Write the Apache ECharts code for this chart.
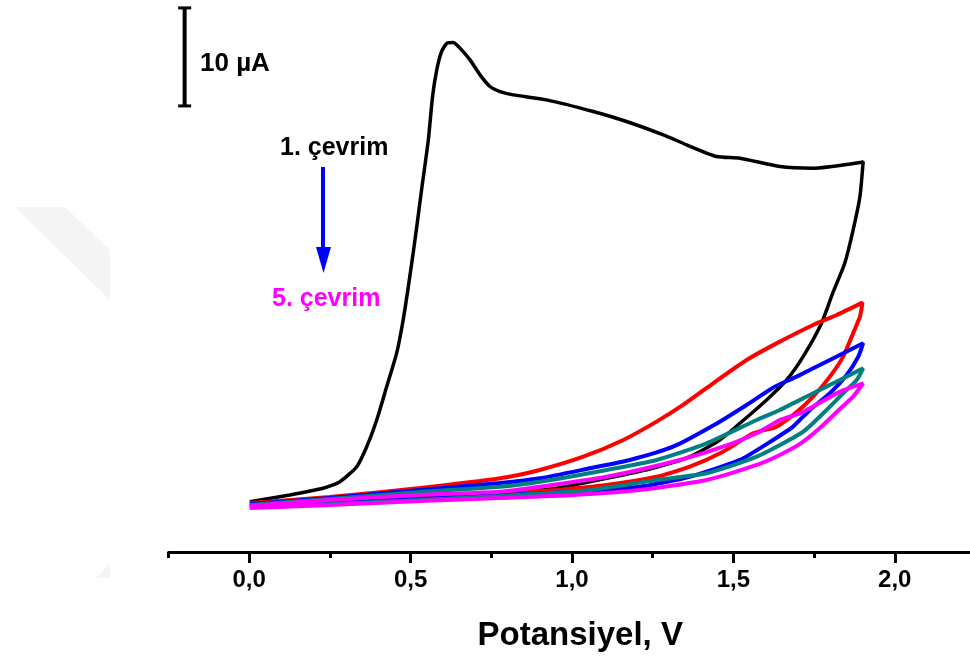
<!DOCTYPE html>
<html>
<head>
<meta charset="utf-8">
<script src="https://cdn.jsdelivr.net/npm/echarts@6/dist/echarts.min.js"></script>
<style>
html,body{margin:0;padding:0;background:#fff;}
#chart{width:970px;height:657px;}
</style>
</head>
<body>
<div id="chart"></div>
<script>
// Potential tick values (V)
const majorTicks = [0, 0.5, 1, 1.5, 2];
const minorTicks = [-0.25, 0.25, 0.75, 1.25, 1.75];

// Cycle data: [potential V, current µA (arbitrary offset)]
const cycle1 = [
  [0.002,5.13],[0.126,5.82],[0.229,6.50],[0.281,7.17],[0.333,8.70],[0.364,10.74],[0.395,13.47],
  [0.426,16.87],[0.457,20.31],[0.477,23.67],[0.493,27.07],[0.508,30.51],[0.521,33.67],[0.534,36.94],
  [0.555,42.04],[0.568,46.46],[0.581,49.18],[0.596,51.05],[0.613,51.91],[0.632,51.97],[0.653,51.40],
  [0.684,50.20],[0.715,48.67],[0.746,47.48],[0.777,46.97],[0.818,46.63],[0.921,46.12],[1.066,44.93],
  [1.169,43.91],[1.283,42.55],[1.355,41.53],[1.448,40.34],[1.520,40.17],[1.644,39.32],[1.747,39.15],
  [1.892,39.72],[1.902,39.83],
  [1.892,36.26],[1.871,32.86],[1.845,29.46],[1.808,26.43],[1.773,23.34],[1.716,19.93],[1.665,17.55],
  [1.603,15.51],[1.520,13.13],[1.458,11.43],[1.365,9.72],[1.262,8.64],[1.159,7.86],[1.055,7.17],
  [0.952,6.50],[0.777,6.02],[0.529,5.61],[0.250,5.31],[0.002,5.00]
];
const cycle2 = [
  [0.002,5.00],[0.250,5.61],[0.529,6.53],[0.777,7.52],[0.900,8.37],[1.035,9.72],[1.159,11.43],
  [1.262,13.30],[1.344,15.00],[1.437,17.21],[1.541,19.59],[1.644,21.46],[1.747,23.16],[1.820,24.18],
  [1.900,25.44],
  [1.892,24.01],[1.871,22.32],[1.840,19.93],[1.799,17.89],[1.747,15.85],[1.697,14.29],[1.632,12.76],
  [1.561,12.11],[1.468,10.23],[1.365,8.70],[1.262,7.68],[1.107,6.84],[0.952,6.33],[0.777,5.92],
  [0.529,5.41],[0.250,5.00],[0.002,4.69]
];
const cycle3 = [
  [0.002,4.90],[0.250,5.51],[0.529,6.33],[0.777,7.04],[0.900,7.52],[1.055,8.54],[1.179,9.39],
  [1.313,10.74],[1.443,13.01],[1.541,15.00],[1.624,16.79],[1.696,17.89],[1.799,19.59],[1.902,21.30],
  [1.887,19.93],[1.851,18.06],[1.799,16.19],[1.737,14.49],[1.684,12.76],[1.623,11.43],[1.520,9.39],
  [1.365,7.68],[1.210,6.66],[1.004,6.15],[0.777,5.82],[0.529,5.41],[0.250,5.00],[0.002,4.69]
];
const cycle4 = [
  [0.002,4.80],[0.250,5.41],[0.529,6.12],[0.777,6.66],[0.900,7.17],[1.107,8.37],[1.262,9.39],
  [1.417,11.09],[1.572,13.47],[1.644,14.49],[1.747,16.19],[1.830,17.55],[1.902,18.74],
  [1.882,17.55],[1.840,16.19],[1.789,14.49],[1.715,12.24],[1.572,9.72],[1.417,8.03],[1.262,7.35],
  [1.055,6.33],[0.777,5.71],[0.529,5.31],[0.250,4.90],[0.002,4.59]
];
const cycle5 = [
  [0.002,4.69],[0.250,5.31],[0.529,5.82],[0.777,6.15],[0.900,6.66],[1.107,7.68],[1.334,9.39],
  [1.468,10.74],[1.572,12.11],[1.644,13.47],[1.706,14.15],[1.747,14.83],[1.830,16.36],[1.902,17.21],
  [1.871,15.85],[1.830,14.59],[1.768,12.65],[1.706,11.02],[1.644,9.90],[1.572,8.88],[1.417,7.35],
  [1.210,6.33],[1.004,5.82],[0.777,5.51],[0.529,5.20],[0.250,4.80],[0.002,4.49]
];
// 10 µA scale bar
const scaleBar = [[-0.2,45.5],[-0.2,55.5]];

const cycleNames = ['1. çevrim','2. çevrim','3. çevrim','4. çevrim','5. çevrim'];
const cycleColors = ['#000000','#ff0000','#0000ff','#008080','#ff00ff'];
const cycles = [cycle1, cycle2, cycle3, cycle4, cycle5];

const chart = echarts.init(document.getElementById('chart'), null, {renderer:'canvas'});
const fmt = v => v.toFixed(1).replace('.', ',');
const FONT = 'Arial, "Liberation Sans", sans-serif';

const series = cycles.map((d, i) => ({
  name: cycleNames[i],
  type: 'line',
  data: d,
  showSymbol: false,
  smooth: 0.2,
  smoothMonotone: 'none',
  lineStyle: {color: cycleColors[i], width: i === 0 ? 3.5 : 4},
  itemStyle: {color: cycleColors[i]},
  z: 2 + i,
  animation: false
}));
series.push({
  name: 'scale',
  type: 'line',
  data: scaleBar,
  symbol: 'rect',
  symbolSize: [13, 3],
  showSymbol: true,
  lineStyle: {color: '#000', width: 4},
  itemStyle: {color: '#000'},
  animation: false
});

chart.setOption({
  animation: false,
  backgroundColor: '#fff',
  grid: {left: 168.5, right: 0, top: 3, bottom: 105, containLabel: false},
  xAxis: [{
    type: 'value', min: -0.25, max: 2.233,
    axisLine: {show: true, lineStyle: {color: '#000', width: 3}},
    axisTick: {show: true, customValues: majorTicks, length: 11, lineStyle: {color: '#000', width: 3}},
    axisLabel: {customValues: majorTicks, formatter: fmt, margin: 16, color: '#000',
      fontSize: 24, fontWeight: 'bold', fontFamily: FONT},
    splitLine: {show: false},
    name: 'Potansiyel, V', nameLocation: 'middle', nameGap: 67,
    nameTextStyle: {fontSize: 33, fontWeight: 'bold', color: '#000', fontFamily: FONT, padding: [0,0,0,22]}
  }, {
    type: 'value', min: -0.25, max: 2.233, position: 'bottom',
    axisLine: {show: false},
    axisTick: {show: true, customValues: minorTicks, length: 6, lineStyle: {color: '#000', width: 3}},
    axisLabel: {show: false},
    splitLine: {show: false}
  }],
  yAxis: {type: 'value', min: 0, max: 56, show: false},
  series: series,
  graphic: [
    {type: 'polygon', shape: {points: [[15,207],[65,207],[110,250],[110,300]]}, style: {fill: '#f4f4f4'}, silent: true, z: -1},
    {type: 'polygon', shape: {points: [[96,578],[110,563],[110,578]]}, style: {fill: '#f4f4f4'}, silent: true, z: -1},
    {type: 'text', left: 200, top: 51, style: {text: '10 µA', fill: '#000', font: 'bold 26px ' + FONT}},
    {type: 'text', left: 280, top: 136, style: {text: '1. çevrim', fill: '#000', font: 'bold 25px ' + FONT}},
    {type: 'line', shape: {x1: 323, y1: 167, x2: 323, y2: 252}, style: {stroke: '#0000ff', lineWidth: 4}},
    {type: 'polygon', shape: {points: [[316,247],[331,247],[323.5,273]]}, style: {fill: '#0000ff'}},
    {type: 'text', left: 272, top: 287, style: {text: '5. çevrim', fill: '#ff00ff', font: 'bold 25px ' + FONT}}
  ]
});
</script>
</body>
</html>
